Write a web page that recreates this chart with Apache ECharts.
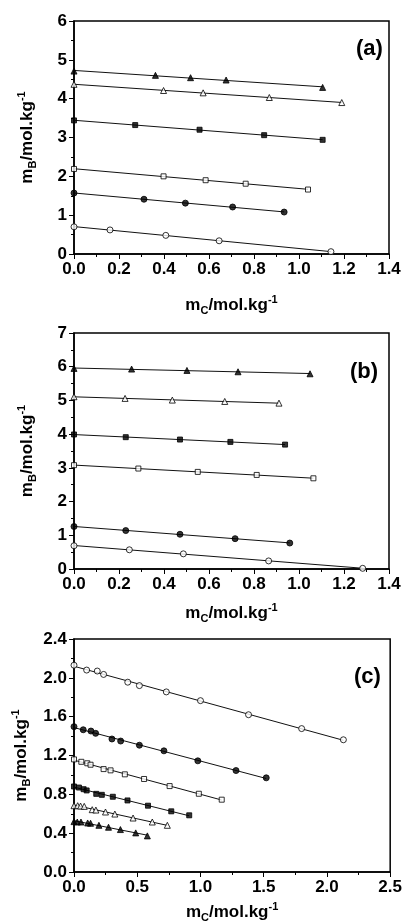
<!DOCTYPE html>
<html>
<head>
<meta charset="utf-8">
<script src="https://cdn.jsdelivr.net/npm/echarts@6/dist/echarts.min.js"></script>
<style>html,body{margin:0;padding:0;background:#fff;}#c{width:405px;height:924px;}</style>
</head>
<body>
<div id="c"></div>
<script>
// ---------- Panel (a) ----------
var aTriX  = [0, 0.362, 0.518, 0.676, 1.105];
var aTriY  = [4.71, 4.60, 4.54, 4.48, 4.29];
var aOTriX = [0, 0.398, 0.574, 0.868, 1.19];
var aOTriY = [4.37, 4.21, 4.15, 4.03, 3.90];
var aSqX   = [0, 0.272, 0.558, 0.845, 1.105];
var aSqY   = [3.44, 3.32, 3.20, 3.06, 2.94];
var aOSqX  = [0, 0.398, 0.585, 0.763, 1.04];
var aOSqY  = [2.19, 2.00, 1.90, 1.81, 1.66];
var aCirX  = [0, 0.311, 0.495, 0.705, 0.934];
var aCirY  = [1.57, 1.41, 1.31, 1.21, 1.08];
var aOCirX = [0, 0.16, 0.408, 0.645, 1.142];
var aOCirY = [0.70, 0.62, 0.48, 0.34, 0.06];

// ---------- Panel (b) ----------
var bTriX  = [0, 0.256, 0.502, 0.729, 1.049];
var bTriY  = [5.95, 5.93, 5.89, 5.85, 5.79];
var bOTriX = [0, 0.227, 0.437, 0.670, 0.911];
var bOTriY = [5.11, 5.06, 5.01, 4.97, 4.92];
var bSqX   = [0, 0.23, 0.471, 0.695, 0.938];
var bSqY   = [3.99, 3.91, 3.84, 3.77, 3.69];
var bOSqX  = [0, 0.286, 0.55, 0.812, 1.064];
var bOSqY  = [3.08, 2.98, 2.88, 2.79, 2.69];
var bCirX  = [0, 0.23, 0.471, 0.716, 0.959];
var bCirY  = [1.26, 1.14, 1.03, 0.90, 0.77];
var bOCirX = [0, 0.246, 0.486, 0.865, 1.283];
var bOCirY = [0.69, 0.57, 0.45, 0.24, 0.02];

// ---------- Panel (c) ----------
var cOCirX = [0, 0.10, 0.184, 0.234, 0.425, 0.517, 0.73, 1.0, 1.38, 1.80, 2.13];
var cOCirY = [2.13, 2.08, 2.07, 2.035, 1.955, 1.92, 1.855, 1.765, 1.62, 1.477, 1.362];
var cCirX  = [0, 0.073, 0.134, 0.171, 0.30, 0.369, 0.517, 0.711, 0.979, 1.281, 1.52];
var cCirY  = [1.497, 1.465, 1.452, 1.428, 1.37, 1.349, 1.306, 1.248, 1.145, 1.045, 0.97];
var cOSqX  = [0, 0.058, 0.105, 0.131, 0.234, 0.289, 0.402, 0.554, 0.756, 0.987, 1.168];
var cOSqY  = [1.16, 1.135, 1.12, 1.105, 1.06, 1.047, 1.006, 0.958, 0.885, 0.806, 0.745];
var cSqX   = [0, 0.039, 0.076, 0.10, 0.176, 0.22, 0.307, 0.423, 0.585, 0.769, 0.911];
var cSqY   = [0.881, 0.870, 0.853, 0.840, 0.805, 0.795, 0.775, 0.737, 0.683, 0.625, 0.584];
var cOTriX = [0, 0.029, 0.052, 0.081, 0.144, 0.173, 0.249, 0.323, 0.467, 0.619, 0.738];
var cOTriY = [0.683, 0.683, 0.679, 0.676, 0.642, 0.638, 0.618, 0.597, 0.556, 0.515, 0.481];
var cTriX  = [0, 0.026, 0.055, 0.108, 0.131, 0.197, 0.273, 0.367, 0.488, 0.58];
var cTriY  = [0.519, 0.515, 0.515, 0.505, 0.502, 0.481, 0.461, 0.437, 0.403, 0.372];

// axis settings
var panelLabels = ['(a)', '(b)', '(c)'];
var xMax = [1.4, 1.4, 2.5], xInt = [0.2, 0.2, 0.5];
var yMax = [6, 7, 2.4], yInt = [1, 1, 0.4];
var yDec = [0, 0, 1];

var FONT = 'Liberation Sans, Arial, sans-serif';
var panels = [
  [[aTriX,aTriY,'triangle',true],[aOTriX,aOTriY,'triangle',false],[aSqX,aSqY,'rect',true],[aOSqX,aOSqY,'rect',false],[aCirX,aCirY,'circle',true],[aOCirX,aOCirY,'circle',false]],
  [[bTriX,bTriY,'triangle',true],[bOTriX,bOTriY,'triangle',false],[bSqX,bSqY,'rect',true],[bOSqX,bOSqY,'rect',false],[bCirX,bCirY,'circle',true],[bOCirX,bOCirY,'circle',false]],
  [[cOCirX,cOCirY,'circle',false],[cCirX,cCirY,'circle',true],[cOSqX,cOSqY,'rect',false],[cSqX,cSqY,'rect',true],[cOTriX,cOTriY,'triangle',false],[cTriX,cTriY,'triangle',true]]
];

function fit(xs, ys) {
  var n = xs.length, sx=0, sy=0, sxx=0, sxy=0;
  for (var i=0;i<n;i++){sx+=xs[i];sy+=ys[i];sxx+=xs[i]*xs[i];sxy+=xs[i]*ys[i];}
  var b = (n*sxy - sx*sy)/(n*sxx - sx*sx);
  var a = (sy - b*sx)/n;
  var x1 = Math.max.apply(null, xs);
  return [[0, a],[x1, a + b*x1]];
}

var grids = [
  {left: 74, right: 16, top: 21, height: 233},
  {left: 74, right: 16, top: 333, height: 236},
  {left: 74, right: 14, top: 639, height: 234}
];
var xNameGap = [40, 33, 29];

var rich = {
  m: {fontSize: 17, fontWeight: 'bold', fontFamily: FONT, color: '#000', lineHeight: 22},
  s: {fontSize: 11, fontWeight: 'bold', fontFamily: FONT, color: '#000', lineHeight: 10, verticalAlign: 'bottom'},
  p: {fontSize: 11, fontWeight: 'bold', fontFamily: FONT, color: '#000', lineHeight: 10, verticalAlign: 'top'}
};

var xAxes = [], yAxes = [], series = [], titles = [];
for (var k=0;k<3;k++){
  grids[k].show = true; grids[k].borderColor = '#000'; grids[k].borderWidth = 1.5;
  (function(k){
    xAxes.push({
      type: 'value', gridIndex: k, min: 0, max: xMax[k], interval: xInt[k],
      name: '{m|m}{s|C}{m|/mol.kg}{p|-1}', nameLocation: 'middle', nameGap: xNameGap[k],
      nameTextStyle: {rich: rich},
      axisLine: {show: true, onZero: false, lineStyle: {color: '#000', width: 1.5}},
      axisTick: {show: true, inside: false, length: 5, lineStyle: {color: '#000', width: 1}},
      minorTick: {show: true, splitNumber: 2, length: 3, lineStyle: {color: '#000', width: 1}},
      splitLine: {show: false},
      axisLabel: {margin: 7, color: '#000', fontSize: 17, fontWeight: 'bold', fontFamily: FONT,
        formatter: function(v){ return v.toFixed(1); }}
    });
    yAxes.push({
      type: 'value', gridIndex: k, min: 0, max: yMax[k], interval: yInt[k],
      name: '{m|m}{s|B}{m|/mol.kg}{p|-1}', nameLocation: 'middle', nameGap: 36,
      nameTextStyle: {rich: rich},
      axisLine: {show: true, onZero: false, lineStyle: {color: '#000', width: 1.5}},
      axisTick: {show: true, inside: false, length: 5, lineStyle: {color: '#000', width: 1}},
      minorTick: {show: true, splitNumber: 2, length: 3, lineStyle: {color: '#000', width: 1}},
      splitLine: {show: false},
      axisLabel: {margin: 7, color: '#000', fontSize: 17, fontWeight: 'bold', fontFamily: FONT,
        formatter: function(v){ return v.toFixed(yDec[k]); }}
    });
  })(k);
  panels[k].forEach(function(s){
    series.push({
      type: 'line', xAxisIndex: k, yAxisIndex: k, data: fit(s[0], s[1]),
      symbol: 'none', lineStyle: {color: '#111', width: 1}, z: 2, silent: true, animation: false
    });
    series.push({
      type: 'scatter', xAxisIndex: k, yAxisIndex: k,
      data: s[0].map(function(x,i){ return [x, s[1][i]]; }),
      symbol: s[2], symbolSize: s[2]==='rect' ? 5 : 6,
      itemStyle: {color: s[3] ? '#000' : '#fff', borderColor: '#000', borderWidth: 1},
      z: 3, animation: false
    });
  });
}
var labelPos = [[356, 38], [350, 361], [354, 666]];
for (var k=0;k<3;k++){
  titles.push({text: panelLabels[k], left: labelPos[k][0], top: labelPos[k][1], padding: 0,
    textStyle: {fontSize: 22, fontWeight: 'bold', fontFamily: FONT, color: '#000'}});
}

var chart = echarts.init(document.getElementById('c'), null, {renderer: 'canvas'});
chart.setOption({
  animation: false,
  backgroundColor: '#fff',
  title: titles,
  grid: grids,
  xAxis: xAxes,
  yAxis: yAxes,
  series: series
});
</script>
</body>
</html>
